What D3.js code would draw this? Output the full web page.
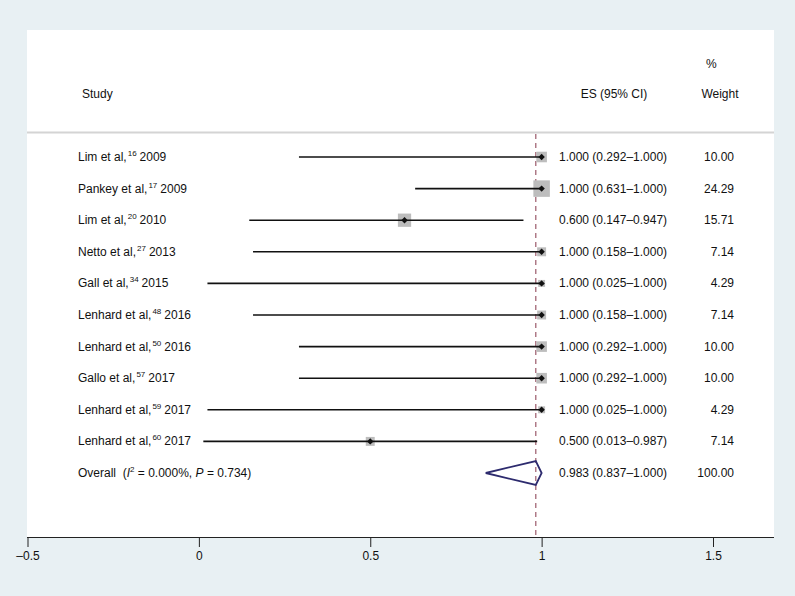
<!DOCTYPE html>
<html>
<head>
<meta charset="utf-8">
<script src="https://cdnjs.cloudflare.com/ajax/libs/d3/7.8.5/d3.min.js"></script>
<style>
  body { margin: 0; background: #e8f0f3; }
  svg text { font-family: "Liberation Sans", Arial, sans-serif; font-size: 12px; fill: #111; }
</style>
</head>
<body>
<svg id="chart" width="795" height="596"></svg>
<script>
// forest plot data
var authors = ["Lim et al,", "Pankey et al,", "Lim et al,", "Netto et al,", "Gall et al,",
  "Lenhard et al,", "Lenhard et al,", "Gallo et al,", "Lenhard et al,", "Lenhard et al,"];
var refs = ["16", "17", "20", "27", "34", "48", "50", "57", "59", "60"];
var years = ["2009", "2009", "2010", "2013", "2015", "2016", "2016", "2017", "2017", "2017"];
var es = [1.000, 1.000, 0.600, 1.000, 1.000, 1.000, 1.000, 1.000, 1.000, 0.500];
var lower = [0.292, 0.631, 0.147, 0.158, 0.025, 0.158, 0.292, 0.292, 0.025, 0.013];
var upper = [1.000, 1.000, 0.947, 1.000, 1.000, 1.000, 1.000, 1.000, 1.000, 0.987];
var weights = [10.00, 24.29, 15.71, 7.14, 4.29, 7.14, 10.00, 10.00, 4.29, 7.14];
var overall = { es: 0.983, lo: 0.837, hi: 1.000, weight: 100.00 };
var xTicks = [-0.5, 0, 0.5, 1, 1.5];

(function () {
  'use strict';
  var svg = d3.select('#chart');
  var panel = { left: 27, right: 774, top: 30, bottom: 537 };

  var x = d3.scaleLinear().domain([-0.5, 1.5]).range([27.5, 713]);
  var rows = d3.range(es.length + 1);
  var y = d3.scalePoint().domain(rows).range([157, 473]);
  var side = d3.scaleSqrt().domain([0, 24.29]).range([0, 16.5]);
  var fmt = d3.format('.3f');
  var fmtW = d3.format('.2f');

  svg.append('rect').attr('x', panel.left).attr('y', panel.top)
    .attr('width', panel.right - panel.left).attr('height', panel.bottom - panel.top)
    .attr('fill', 'white');

  // header
  svg.append('text').attr('x', 82).attr('y', 98).text('Study');
  svg.append('text').attr('x', 614).attr('y', 98).attr('text-anchor', 'middle').text('ES (95% CI)');
  svg.append('text').attr('x', 720).attr('y', 98).attr('text-anchor', 'middle').text('Weight');
  svg.append('text').attr('x', 706).attr('y', 68).text('%');
  svg.append('line').attr('x1', panel.left).attr('x2', panel.right)
    .attr('y1', 132.5).attr('y2', 132.5).attr('stroke', '#d4d4d4').attr('stroke-width', 2);

  // overall dashed line
  svg.append('line').attr('x1', x(overall.es)).attr('x2', x(overall.es))
    .attr('y1', 134).attr('y2', panel.bottom)
    .attr('stroke', '#9b5a6a').attr('stroke-width', 1.2).attr('stroke-dasharray', '5,4');

  var study = svg.selectAll('g.study').data(es).enter().append('g').attr('class', 'study');

  study.append('rect')
    .attr('x', function (d, i) { return x(d) - side(weights[i]) / 2; })
    .attr('y', function (d, i) { return y(i) - side(weights[i]) / 2; })
    .attr('width', function (d, i) { return side(weights[i]); })
    .attr('height', function (d, i) { return side(weights[i]); })
    .attr('fill', '#bdbdbd');

  study.append('line')
    .attr('x1', function (d, i) { return x(lower[i]); })
    .attr('x2', function (d, i) { return x(upper[i]); })
    .attr('y1', function (d, i) { return y(i); })
    .attr('y2', function (d, i) { return y(i); })
    .attr('stroke', '#111').attr('stroke-width', 1.6);

  study.append('path')
    .attr('d', 'M-3.2,0L0,-3.2L3.2,0L0,3.2Z')
    .attr('transform', function (d, i) { return 'translate(' + x(d) + ',' + y(i) + ')'; })
    .attr('fill', '#111');

  var lbl = study.append('text')
    .attr('x', 78).attr('font-size', '11.5px')
    .attr('y', function (d, i) { return y(i) + 4; });
  lbl.append('tspan').text(function (d, i) { return authors[i]; });
  lbl.append('tspan').attr('font-size', '8px').attr('dy', -5).attr('dx', 1)
    .text(function (d, i) { return refs[i]; });
  lbl.append('tspan').attr('dy', 5).attr('dx', 3).text(function (d, i) { return years[i]; });

  study.append('text')
    .attr('x', 559)
    .attr('y', function (d, i) { return y(i) + 4; })
    .text(function (d, i) { return fmt(d) + ' (' + fmt(lower[i]) + '\u2013' + fmt(upper[i]) + ')'; });

  study.append('text')
    .attr('x', 734).attr('text-anchor', 'end')
    .attr('y', function (d, i) { return y(i) + 4; })
    .text(function (d, i) { return fmtW(weights[i]); });

  // overall
  var yo = y(es.length);
  svg.append('path')
    .attr('d', 'M' + x(overall.lo) + ',' + yo + 'L' + x(overall.es) + ',' + (yo - 12) +
      'L' + x(overall.hi) + ',' + yo + 'L' + x(overall.es) + ',' + (yo + 12) + 'Z')
    .attr('fill', 'none').attr('stroke', '#2d2b6e').attr('stroke-width', 1.8);

  var ov = svg.append('text').attr('x', 78).attr('y', yo + 4)
    .attr('font-size', '11.5px').attr('xml:space', 'preserve');
  ov.append('tspan').text('Overall  (');
  ov.append('tspan').attr('font-style', 'italic').text('I');
  ov.append('tspan').attr('font-size', '8px').attr('dy', -5).text('2');
  ov.append('tspan').attr('dy', 5).text(' = 0.000%, ');
  ov.append('tspan').attr('font-style', 'italic').text('P');
  ov.append('tspan').text(' = 0.734)');

  svg.append('text').attr('x', 559).attr('y', yo + 4)
    .text(fmt(overall.es) + ' (' + fmt(overall.lo) + '\u2013' + fmt(overall.hi) + ')');
  svg.append('text').attr('x', 734).attr('y', yo + 4).attr('text-anchor', 'end')
    .text(fmtW(overall.weight));

  // x axis
  var axis = d3.axisBottom(x).tickValues(xTicks).tickSize(10).tickPadding(4)
    .tickFormat(function (d) { return String(d).replace('-', '\u2013'); });
  var ag = svg.append('g').attr('transform', 'translate(0,' + panel.bottom + ')').call(axis);
  ag.select('.domain').remove();
  ag.selectAll('.tick line').attr('stroke', '#222');
  ag.selectAll('.tick text').attr('font-size', '12px').attr('font-family', null).attr('fill', '#111');
  svg.append('line').attr('x1', panel.left).attr('x2', panel.right)
    .attr('y1', panel.bottom + 0.5).attr('y2', panel.bottom + 0.5).attr('stroke', '#222');
})();
</script>
</body>
</html>
